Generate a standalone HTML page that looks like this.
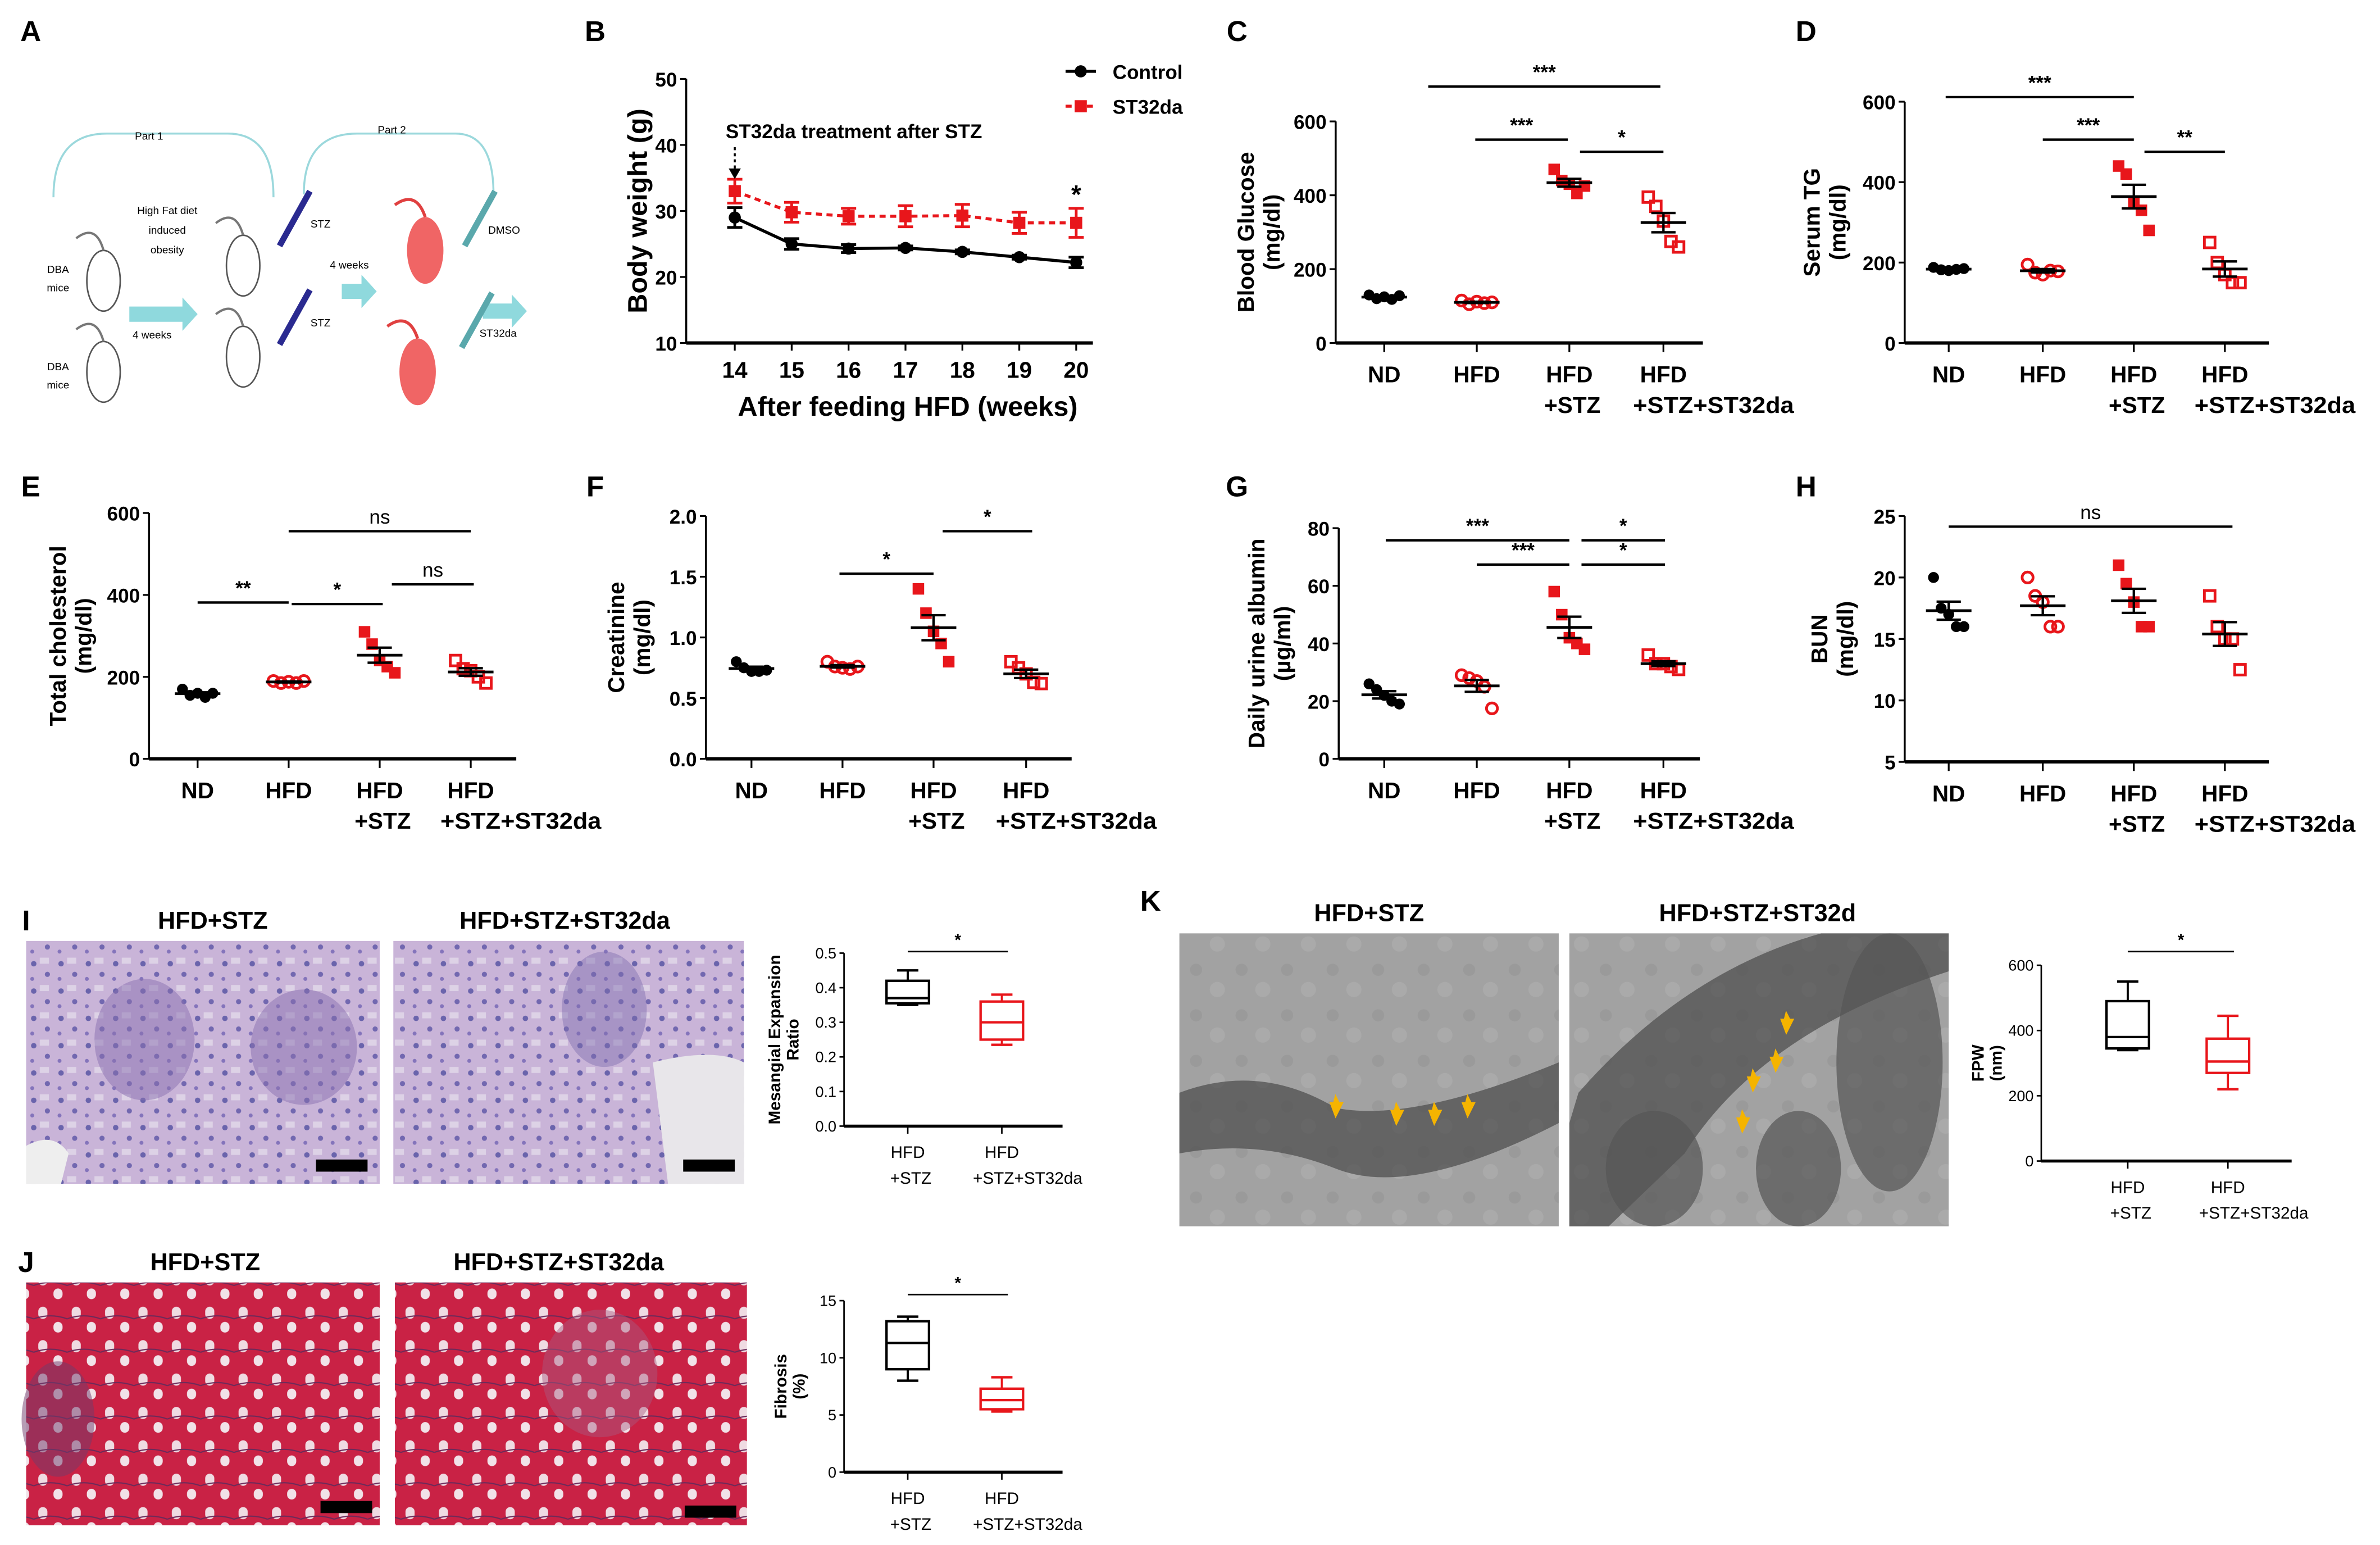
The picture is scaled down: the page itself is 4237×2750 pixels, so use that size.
<!DOCTYPE html>
<html><head><meta charset="utf-8">
<style>
html,body{margin:0;padding:0;background:#fff;}
svg{display:block;}
text{font-family:"Liberation Sans",Arial,sans-serif;}
</style></head>
<body>
<svg id="fig" xmlns="http://www.w3.org/2000/svg" width="4237" height="2750" viewBox="0 0 1568 1018">
<defs>
<pattern id="pas" width="18" height="18" patternUnits="userSpaceOnUse">
<rect width="18" height="18" fill="#c9b4d8"/>
<circle cx="4" cy="5" r="1.8" fill="#6a64ac"/><circle cx="13" cy="12" r="1.7" fill="#7268b0"/>
<rect x="8" y="1" width="6" height="4" fill="#ddd2e6"/><circle cx="3" cy="15" r="1.3" fill="#8474bb"/>
</pattern>
<pattern id="tri" width="22" height="22" patternUnits="userSpaceOnUse">
<rect width="22" height="22" fill="#c92245"/>
<rect x="3" y="3" width="6" height="8" rx="3" fill="#efdbe2"/><rect x="13" y="13" width="6" height="7" rx="3" fill="#f1e2e8"/>
<path d="M0 11 Q11 7 22 11" stroke="#6b2a5a" stroke-width="0.8" fill="none"/>
</pattern>
<pattern id="em" width="30" height="30" patternUnits="userSpaceOnUse">
<rect width="30" height="30" fill="#a2a2a2"/><circle cx="8" cy="9" r="4" fill="#9a9a9a"/><circle cx="22" cy="22" r="5" fill="#aaaaaa"/>
</pattern>
</defs>
</svg>
<script>
// ---------- data ----------
const groups = ["ND","HFD","HFD+STZ","HFD+STZ+ST32da"];
const weeks = [14,15,16,17,18,19,20];
const bwControl = [29,25,24.3,24.4,23.8,23,22.2];
const bwControlErr = [1.5,0.8,0.6,0.3,0.3,0.3,0.8];
const bwST32da = [33,29.8,29.2,29.2,29.3,28.2,28.2];
const bwST32daErr = [1.8,1.5,1.2,1.6,1.7,1.6,2.2];
const bwTicks = [10,20,30,40,50];
const glucose = [[130,120,125,118,128],[115,105,112,108,110],[470,440,430,405,425],[395,370,330,275,260]];
const glucoseTicks = [0,200,400,600];
const serumTG = [[188,182,180,183,185],[195,175,170,180,178],[440,420,350,330,280],[250,200,170,150,150]];
const tgTicks = [0,200,400,600];
const cholesterol = [[170,155,160,150,160],[190,185,188,185,190],[310,280,240,225,210],[240,220,215,200,185]];
const cholTicks = [0,200,400,600];
const creatinine = [[0.8,0.75,0.72,0.72,0.73],[0.8,0.76,0.75,0.74,0.76],[1.4,1.2,1.05,0.95,0.8],[0.8,0.75,0.7,0.63,0.62]];
const creatTicks = [0,0.5,1.0,1.5,2.0];
const albumin = [[26,24,22,20,19],[29,28,27,25,17.5],[58,50,42,40,38],[36,33,33,32,31]];
const albTicks = [0,20,40,60,80];
const bun = [[20,17.5,17,16,16],[20,18.5,18,16,16],[21,19.5,18,16,16],[18.5,16,15,15,12.5]];
const bunTicks = [5,10,15,20,25];
const mesangial = [[0.35,0.355,0.37,0.42,0.45],[0.235,0.25,0.30,0.36,0.38]];
const mesTicks = [0,0.1,0.2,0.3,0.4,0.5];
const fibrosis = [[8,9,11.3,13.2,13.6],[5.3,5.5,6.3,7.3,8.3]];
const fibTicks = [0,5,10,15];
const fpw = [[340,345,380,490,550],[220,270,305,375,445]];
const fpwTicks = [0,200,400,600];

// ---------- helpers ----------
const NS="http://www.w3.org/2000/svg";
const svg=document.getElementById('fig');
function el(tag,attrs,parent,txt){const e=document.createElementNS(NS,tag);for(const k in attrs)e.setAttribute(k,attrs[k]);if(txt!==undefined)e.textContent=txt;(parent||svg).appendChild(e);return e;}
function grp(name,parent){const g=el('g',{},parent);return g;}
function lin(d0,d1,r0,r1){return v=>r0+(v-d0)/(d1-d0)*(r1-r0);}
function txt(g,x,y,s,size,opts){const t=el('text',Object.assign({x:x,y:y,'font-size':size,'font-weight':'bold','text-anchor':'middle',fill:'#000'},opts||{}),g,s);return t;}
function mean(a){return a.reduce((p,c)=>p+c,0)/a.length;}
function sem(a){const m=mean(a);return Math.sqrt(a.reduce((p,c)=>p+(c-m)*(c-m),0)/(a.length-1))/Math.sqrt(a.length);}

function yAxis(g,x,y,ticks,fmt){
  el('line',{x1:x,y1:y(ticks[ticks.length-1]),x2:x,y2:y(ticks[0]),stroke:'#000','stroke-width':1.3},g);
  ticks.forEach(t=>{el('line',{x1:x-4,y1:y(t),x2:x,y2:y(t),stroke:'#000','stroke-width':1.2},g);
    const l=txt(g,x-6,y(t)+5,fmt?fmt(t):String(t),13,{'text-anchor':'end'});});
}
function sigBar(g,x1,x2,y,label){
  el('line',{x1:x1,y1:y,x2:x2,y2:y,stroke:'#000','stroke-width':1.6},g);
  txt(g,(x1+x2)/2,y-5,label,13,{'font-weight':label==='ns'?'normal':'bold'});
}
function marker(g,kind,cx,cy){
  if(kind==='fc')el('circle',{cx:cx,cy:cy,r:3.6,fill:'#000'},g);
  else if(kind==='oc')el('circle',{cx:cx,cy:cy,r:3.6,fill:'none',stroke:'#e8161b','stroke-width':1.8},g);
  else if(kind==='fs')el('rect',{x:cx-3.8,y:cy-3.8,width:7.6,height:7.6,fill:'#e8161b'},g);
  else el('rect',{x:cx-3.5,y:cy-3.5,width:7,height:7,fill:'none',stroke:'#e8161b','stroke-width':1.8},g);
}
const kinds=['fc','oc','fs','os'];
const jit=[-10,-5,0,5,10];

function scatterPanel(o){
  const g=grp(o.name);
  const y=lin(o.ticks[0],o.ticks[o.ticks.length-1],o.y0,o.y1);
  yAxis(g,o.ax,y,o.ticks,o.fmt);
  el('line',{x1:o.ax,y1:o.y0,x2:o.xEnd,y2:o.y0,stroke:'#000','stroke-width':2.2},g);
  const yt=txt(g,0,0,o.title1,15,{transform:`translate(${o.tx},${(o.y0+o.y1)/2}) rotate(-90)`});
  
  if(o.title2)txt(g,0,0,o.title2,15,{transform:`translate(${o.tx+17},${(o.y0+o.y1)/2}) rotate(-90)`});
  o.data.forEach((vals,i)=>{
    const gx=o.gx[i];
    el('line',{x1:gx,y1:o.y0,x2:gx,y2:o.y0+6,stroke:'#000','stroke-width':1.2},g);
    const lbl=groups[i]; const parts=lbl==='ND'||lbl==='HFD'?[lbl]:['HFD',lbl.slice(3)];
    parts.forEach((p,k)=>{const long=p.length>5;const t=txt(g,gx+(k?(long?33:2):0),o.y0+26+k*20,p,15,long?{textLength:106,lengthAdjust:'spacingAndGlyphs'}:{});});
    const pg=grp('points-'+lbl.toLowerCase().replace(/\+/g,'-'),g);
    vals.forEach((v,j)=>marker(pg,kinds[i],gx+jit[j],y(v)));
    const m=mean(vals),s=sem(vals);
    el('line',{x1:gx-15,y1:y(m),x2:gx+15,y2:y(m),stroke:'#000','stroke-width':1.8},pg);
    el('line',{x1:gx,y1:y(m-s),x2:gx,y2:y(m+s),stroke:'#000','stroke-width':1.6},pg);
    el('line',{x1:gx-8,y1:y(m-s),x2:gx+8,y2:y(m-s),stroke:'#000','stroke-width':1.6},pg);
    el('line',{x1:gx-8,y1:y(m+s),x2:gx+8,y2:y(m+s),stroke:'#000','stroke-width':1.6},pg);
  });
  (o.sig||[]).forEach(s=>sigBar(g,s[0],s[1],s[2],s[3]));
}

function boxPanel(o){
  const g=grp(o.name);
  const y=lin(o.ticks[0],o.ticks[o.ticks.length-1],o.y0,o.y1);
  el('line',{x1:o.ax,y1:y(o.ticks[o.ticks.length-1]),x2:o.ax,y2:o.y0,stroke:'#000','stroke-width':1},g);
  o.ticks.forEach(t=>{el('line',{x1:o.ax-3,y1:y(t),x2:o.ax,y2:y(t),stroke:'#000','stroke-width':1},g);
    txt(g,o.ax-5,y(t)+3.5,o.fmt?o.fmt(t):String(t),10,{'text-anchor':'end','font-weight':'normal'});});
  el('line',{x1:o.ax,y1:o.y0,x2:o.xEnd,y2:o.y0,stroke:'#000','stroke-width':2},g);
  o.titles.forEach((s,k)=>txt(g,0,0,s,11,{transform:`translate(${o.tx+k*12},${(o.y0+o.y1)/2}) rotate(-90)`}));
  const cols=['#000','#e8161b'],names=['HFD+STZ','HFD+STZ+ST32da'];
  o.data.forEach((b,i)=>{
    const gx=o.gx[i],c=cols[i],bg=grp('box-'+(i?'st32da':'stz'),g);
    el('line',{x1:gx,y1:o.y0,x2:gx,y2:o.y0+5,stroke:'#000','stroke-width':1},g);
    txt(g,gx,o.y0+21,'HFD',11,{'font-weight':'normal'});
    txt(g,gx+(i?17:2),o.y0+38,names[i].slice(3),11,{'font-weight':'normal'});
    el('rect',{x:gx-14,y:y(b[3]),width:28,height:y(b[1])-y(b[3]),fill:'none',stroke:c,'stroke-width':1.6},bg);
    el('line',{x1:gx-14,y1:y(b[2]),x2:gx+14,y2:y(b[2]),stroke:c,'stroke-width':1.6},bg);
    el('line',{x1:gx,y1:y(b[3]),x2:gx,y2:y(b[4]),stroke:c,'stroke-width':1.4},bg);
    el('line',{x1:gx,y1:y(b[1]),x2:gx,y2:y(b[0]),stroke:c,'stroke-width':1.4},bg);
    el('line',{x1:gx-7,y1:y(b[4]),x2:gx+7,y2:y(b[4]),stroke:c,'stroke-width':1.6},bg);
    el('line',{x1:gx-7,y1:y(b[0]),x2:gx+7,y2:y(b[0]),stroke:c,'stroke-width':1.6},bg);
  });
  el('line',{x1:o.sig[0],y1:o.sig[2],x2:o.sig[1],y2:o.sig[2],stroke:'#000','stroke-width':1},g);
  txt(g,(o.sig[0]+o.sig[1])/2,o.sig[2]-4,'*',11);
}

// ---------- panel letters ----------
[['A',20,27],['B',392,27],['C',815,27],['D',1190,27],['E',20,327],['F',392,327],['G',815,327],['H',1190,327],['I',17,613],['J',17,838],['K',758,600]].forEach(p=>{
  const t=txt(svg,p[1],p[2],p[0],19,{});});

// ---------- panel A (schematic) ----------
(function(){
  const g=grp('panel-a-schematic');
  el('path',{d:'M35 130 Q35 88 70 88 L150 88 Q180 88 180 130',fill:'none',stroke:'#9bd8dc','stroke-width':1.3},g);
  el('path',{d:'M200 128 Q200 88 235 88 L300 88 Q325 88 325 128',fill:'none',stroke:'#9bd8dc','stroke-width':1.3},g);
  txt(g,98,92,'Part 1',7,{'font-weight':'normal'});txt(g,258,88,'Part 2',7,{'font-weight':'normal'});
  txt(g,110,141,'High Fat diet',7,{'font-weight':'normal'});txt(g,110,154,'induced',7,{'font-weight':'normal'});txt(g,110,167,'obesity',7,{'font-weight':'normal'});
  txt(g,38,180,'DBA',7,{'font-weight':'normal'});txt(g,38,192,'mice',7,{'font-weight':'normal'});
  txt(g,38,244,'DBA',7,{'font-weight':'normal'});txt(g,38,256,'mice',7,{'font-weight':'normal'});
  txt(g,100,223,'4 weeks',7,{'font-weight':'normal'});txt(g,230,177,'4 weeks',7,{'font-weight':'normal'});
  txt(g,211,150,'STZ',7,{'font-weight':'normal'});txt(g,211,215,'STZ',7,{'font-weight':'normal'});
  txt(g,332,154,'DMSO',7,{'font-weight':'normal'});txt(g,328,222,'ST32da',7,{'font-weight':'normal'});
  [[68,185],[68,245],[160,175],[160,235]].forEach(m=>{el('ellipse',{cx:m[0],cy:m[1],rx:11,ry:20,fill:'#fff',stroke:'#555','stroke-width':1},g);el('path',{d:`M${m[0]} ${m[1]-20} Q${m[0]-5} ${m[1]-38} ${m[0]-18} ${m[1]-28}`,fill:'none',stroke:'#777','stroke-width':1.5},g);});
  [[280,165],[275,245]].forEach(m=>{el('ellipse',{cx:m[0],cy:m[1],rx:12,ry:22,fill:'#f06565'},g);el('path',{d:`M${m[0]} ${m[1]-22} Q${m[0]-6} ${m[1]-40} ${m[0]-20} ${m[1]-30}`,fill:'none',stroke:'#e04040','stroke-width':2},g);});
  [[85,207,130],[225,192,248],[318,205,347]].forEach(a=>el('path',{d:`M${a[0]} ${a[1]-5} L${a[2]-10} ${a[1]-5} L${a[2]-10} ${a[1]-11} L${a[2]} ${a[1]} L${a[2]-10} ${a[1]+11} L${a[2]-10} ${a[1]+5} L${a[0]} ${a[1]+5}Z`,fill:'#8fd9dd'},g));
  [[198,140,'#2a2a90'],[198,205,'#2a2a90'],[320,140,'#5aa8ac'],[318,207,'#5aa8ac']].forEach(s=>el('line',{x1:s[0]-14,y1:s[1]+22,x2:s[0]+6,y2:s[1]-14,stroke:s[2],'stroke-width':4},g));
})();

// ---------- panel B ----------
(function(){
  const g=grp('panel-b-body-weight');
  const x=lin(14,20,484,709), y=lin(10,50,226,52);
  yAxis(g,452,y,bwTicks);
  el('line',{x1:452,y1:226,x2:720,y2:226,stroke:'#000','stroke-width':2.2},g);
  weeks.forEach(w=>{el('line',{x1:x(w),y1:226,x2:x(w),y2:231,stroke:'#000','stroke-width':1.2},g);txt(g,x(w),249,String(w),15);});
  const yt=txt(g,0,0,'Body weight (g)',18,{transform:'translate(426,139) rotate(-90)'});
  const xt=txt(g,598,274,'After feeding HFD (weeks)',18,{});
  function series(vals,errs,color,dash,name,sq){
    const sg=grp(name,g);
    el('polyline',{points:vals.map((v,i)=>x(weeks[i])+','+y(v)).join(' '),fill:'none',stroke:color,'stroke-width':2,'stroke-dasharray':dash||'none'},sg);
    vals.forEach((v,i)=>{const cx=x(weeks[i]);
      el('line',{x1:cx,y1:y(v-errs[i]),x2:cx,y2:y(v+errs[i]),stroke:color,'stroke-width':1.8},sg);
      el('line',{x1:cx-5,y1:y(v-errs[i]),x2:cx+5,y2:y(v-errs[i]),stroke:color,'stroke-width':1.8},sg);
      el('line',{x1:cx-5,y1:y(v+errs[i]),x2:cx+5,y2:y(v+errs[i]),stroke:color,'stroke-width':1.8},sg);
      if(sq)el('rect',{x:cx-4,y:y(v)-4,width:8,height:8,fill:color},sg);else el('circle',{cx:cx,cy:y(v),r:4,fill:color},sg);});
  }
  series(bwControl,bwControlErr,'#000',null,'series-control',false);
  series(bwST32da,bwST32daErr,'#e8161b','4 3','series-st32da',true);
  txt(g,478,91,'ST32da treatment after STZ',13,{'text-anchor':'start'});
  el('line',{x1:484,y1:97,x2:484,y2:112,stroke:'#000','stroke-width':1.3,'stroke-dasharray':'2 2'},g);
  el('path',{d:'M480 111 L488 111 L484 118Z',fill:'#000'},g);
  txt(g,709,134,'*',17,{});
  const lg=grp('legend',g);
  el('line',{x1:702,y1:47,x2:722,y2:47,stroke:'#000','stroke-width':2},lg);el('circle',{cx:712,cy:47,r:4,fill:'#000'},lg);
  txt(lg,733,52,'Control',13,{'text-anchor':'start'});
  el('line',{x1:702,y1:70,x2:722,y2:70,stroke:'#e8161b','stroke-width':2,'stroke-dasharray':'4 3'},lg);el('rect',{x:708,y:66,width:8,height:8,fill:'#e8161b'},lg);
  txt(lg,733,75,'ST32da',13,{'text-anchor':'start'});
})();

// ---------- scatter panels ----------
scatterPanel({name:'panel-c-blood-glucose',data:glucose,ticks:glucoseTicks,ax:880,y0:226,y1:80,xEnd:1122,gx:[912,973,1034,1096],tx:826,title1:'Blood Glucose',title2:'(mg/dl)',
  sig:[[941,1094,57,'***'],[972,1033,92,'***'],[1041,1096,100,'*']]});
scatterPanel({name:'panel-d-serum-tg',data:serumTG,ticks:tgTicks,ax:1255,y0:226,y1:67,xEnd:1495,gx:[1284,1346,1406,1466],tx:1199,title1:'Serum TG',title2:'(mg/dl)',
  sig:[[1282,1406,64,'***'],[1346,1406,92,'***'],[1413,1466,100,'**']]});
scatterPanel({name:'panel-e-total-cholesterol',data:cholesterol,ticks:cholTicks,ax:98,y0:500,y1:338,xEnd:340,gx:[130,190,250,310],tx:43,title1:'Total cholesterol',title2:'(mg/dl)',
  sig:[[190,310,350,'ns'],[258,312,385,'ns'],[130,190,397,'**'],[192,252,398,'*']]});
scatterPanel({name:'panel-f-creatinine',data:creatinine,ticks:creatTicks,ax:465,y0:500,y1:340,xEnd:706,gx:[495,555,615,676],tx:411,title1:'Creatinine',title2:'(mg/dl)',fmt:t=>t.toFixed(1),
  sig:[[553,615,378,'*'],[621,680,350,'*']]});
scatterPanel({name:'panel-g-urine-albumin',data:albumin,ticks:albTicks,ax:882,y0:500,y1:348,xEnd:1120,gx:[912,973,1034,1096],tx:833,title1:'Daily urine albumin',title2:'(µg/ml)',
  sig:[[913,1034,356,'***'],[1042,1097,356,'*'],[973,1034,372,'***'],[1042,1097,372,'*']]});
scatterPanel({name:'panel-h-bun',data:bun,ticks:bunTicks,ax:1255,y0:502,y1:340,xEnd:1495,gx:[1284,1346,1406,1466],tx:1204,title1:'BUN',title2:'(mg/dl)',
  sig:[[1284,1471,347,'ns']]});

// ---------- histology images ----------
(function(){
  const g=grp('histology-images');
  const imgs=[['pas-hfd-stz',17,620,233,160,'url(#pas)'],['pas-hfd-stz-st32da',259,620,231,160,'url(#pas)'],
    ['trichrome-hfd-stz',17,845,233,160,'url(#tri)'],['trichrome-hfd-stz-st32da',260,845,232,160,'url(#tri)'],
    ['em-hfd-stz',777,615,250,193,'url(#em)'],['em-hfd-stz-st32d',1034,615,250,193,'url(#em)']];
  imgs.forEach(m=>{const r=el('rect',{x:m[1],y:m[2],width:m[3],height:m[4],fill:m[5]},g);});
  el('ellipse',{cx:95,cy:685,rx:33,ry:40,fill:'#8a6fb0',opacity:0.5},g);el('ellipse',{cx:200,cy:690,rx:35,ry:38,fill:'#8a6fb0',opacity:0.5},g);
  el('ellipse',{cx:398,cy:665,rx:28,ry:38,fill:'#7e6cb0',opacity:0.45},g);el('path',{d:'M430 700 Q470 690 490 700 L490 780 L440 780Z',fill:'#e8e6ea'},g);
  el('path',{d:'M17 755 Q35 745 45 760 L40 780 L17 780Z',fill:'#eeeeee'},g);
  el('ellipse',{cx:38,cy:935,rx:24,ry:38,fill:'#6f3b6b',opacity:0.5},g);el('ellipse',{cx:395,cy:905,rx:38,ry:42,fill:'#a85a80',opacity:0.45},g);
  el('path',{d:'M777 720 Q830 700 880 730 Q930 740 1027 700 L1027 740 Q930 790 880 770 Q830 750 777 760Z',fill:'#4a4a4a',opacity:0.7},g);
  el('path',{d:'M1040 720 Q1110 640 1200 615 L1284 615 L1284 640 Q1160 680 1110 760 L1060 808 L1034 808 L1034 740Z',fill:'#4a4a4a',opacity:0.7},g);
  el('ellipse',{cx:1245,cy:700,rx:35,ry:85,fill:'#555',opacity:0.7},g);el('ellipse',{cx:1090,cy:770,rx:32,ry:38,fill:'#555',opacity:0.7},g);el('ellipse',{cx:1185,cy:770,rx:28,ry:38,fill:'#555',opacity:0.7},g);
  [[225,768],[467,768],[228,993],[468,996]].forEach(b=>el('rect',{x:b[0]-17,y:b[1]-4,width:34,height:8,fill:'#000'},g));
  [[880,735],[920,740],[945,740],[967,735],[1177,680],[1170,705],[1155,718],[1148,745]].forEach(a=>el('path',{d:`M${a[0]} ${a[1]} l-3 -8 l2 0 l1 -4 l2 4 l2 0Z`,fill:'#f5b400',stroke:'#f5b400','stroke-width':1.5},g));
  [['HFD+STZ',140,612],['HFD+STZ+ST32da',372,612],['HFD+STZ',135,837],['HFD+STZ+ST32da',368,837],['HFD+STZ',902,607],['HFD+STZ+ST32d',1158,607]].forEach(t=>{
    const e=txt(g,t[1],t[2],t[0],16,{});});
})();

// ---------- box plots ----------
boxPanel({name:'panel-i-mesangial',data:mesangial,ticks:mesTicks,ax:556,y0:742,y1:628,xEnd:700,gx:[598,660],tx:514,titles:['Mesangial Expansion','Ratio'],fmt:t=>t.toFixed(1),sig:[598,664,627]});
boxPanel({name:'panel-j-fibrosis',data:fibrosis,ticks:fibTicks,ax:556,y0:970,y1:857,xEnd:700,gx:[598,660],tx:518,titles:['Fibrosis','(%)'],sig:[598,664,853]});
boxPanel({name:'panel-k-fpw',data:fpw,ticks:fpwTicks,ax:1345,y0:765,y1:636,xEnd:1510,gx:[1402,1468],tx:1307,titles:['FPW','(nm)'],sig:[1402,1472,627]});
</script>
</body></html>
